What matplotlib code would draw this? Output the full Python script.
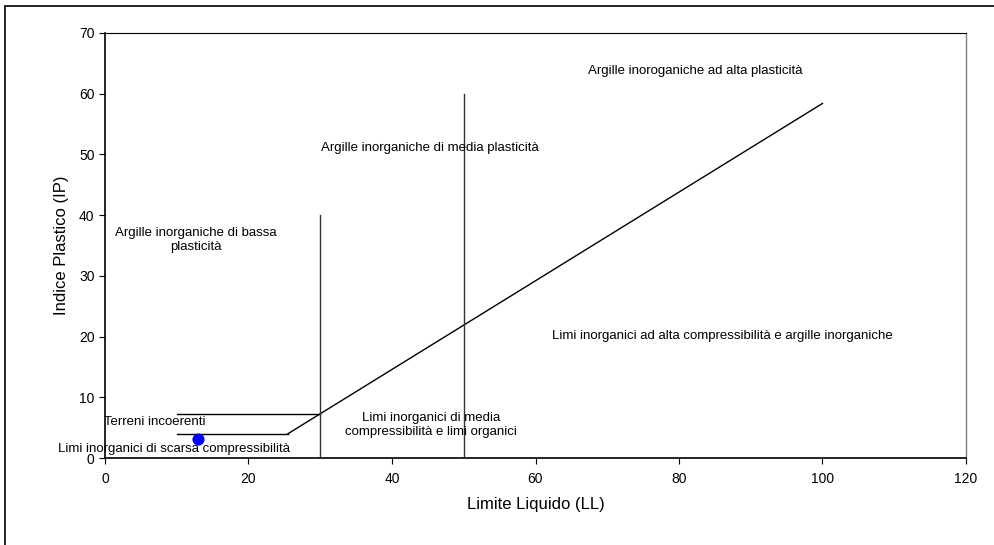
# Carta di plasticità di Casagrande
import matplotlib
matplotlib.use('Agg')
import matplotlib.pyplot as plt
from matplotlib.patches import Rectangle

# Linee della carta
a_line_x = [25.5, 100]
a_line_y = [4, 58.4]
low_x = [10, 25.5]
low_y = [4, 4]
high_x = [10, 30]
high_y = [7.3, 7.3]
vert1_x = [30, 30]
vert1_y = [0, 40]
vert2_x = [50, 50]
vert2_y = [0, 60]

# Campione
sample_ll = [13]
sample_ip = [3.2]

# Etichette delle zone
zone_labels = [
    'Argille inoroganiche ad alta plasticità',
    'Argille inorganiche di media plasticità',
    'Argille inorganiche di bassa\nplasticità',
    'Limi inorganici ad alta compressibilità e argille inorganiche',
    'Limi inorganici di media\ncompressibilità e limi organici',
    'Terreni incoerenti',
    'Limi inorganici di scarsa compressibilità',
]
zone_x = [82.2, 45.3, 12.7, 86, 45.4, 7.0, 9.6]
zone_y = [63.8, 51.1, 35.9, 20.1, 5.4, 5.9, 1.5]

plt.rcParams['font.family'] = ['Liberation Sans', 'DejaVu Sans']

fig = plt.figure(figsize=(9.94, 5.45), dpi=100)
ax = fig.add_axes([105 / 994, 1 - 458 / 545, 861 / 994, 425 / 545])

# Cornice esterna
fig.add_artist(Rectangle((5 / 994, -0.1), 1.2, 1.1 - 6 / 545,
                         transform=fig.transFigure, fill=False,
                         edgecolor='black', linewidth=1.2))

ax.plot(a_line_x, a_line_y, color='black', linewidth=1)
ax.plot(low_x, low_y, color='black', linewidth=1)
ax.plot(high_x, high_y, color='black', linewidth=1)
ax.plot(vert1_x, vert1_y, color='#333333', linewidth=1)
ax.plot(vert2_x, vert2_y, color='#333333', linewidth=1)

for label, x, y in zip(zone_labels, zone_x, zone_y):
    ax.text(x, y, label, ha='center', va='center', fontsize=9.5,
            linespacing=1.25)

ax.scatter(sample_ll, sample_ip, s=60, color='#0000ff', zorder=5)

ax.set(xlim=(0, 120), ylim=(0, 70),
       xticks=range(0, 121, 20), yticks=range(0, 71, 10))
ax.tick_params(direction='out', length=4, labelsize=10, colors='black')
ax.tick_params(axis='x', pad=6)
ax.spines['left'].set_linewidth(1.2)
ax.spines['bottom'].set_linewidth(1.2)
ax.spines['top'].set_linewidth(0.8)
ax.spines['right'].set_color('#808080')
ax.spines['right'].set_linewidth(1)

ax.set_xlabel('Limite Liquido (LL)', fontsize=12)
ax.set_ylabel('Indice Plastico (IP)', fontsize=12)
ax.xaxis.set_label_coords(0.5, -0.092)
ax.yaxis.set_label_coords(-0.042, 0.5)

plt.savefig('out.png', dpi=100)
